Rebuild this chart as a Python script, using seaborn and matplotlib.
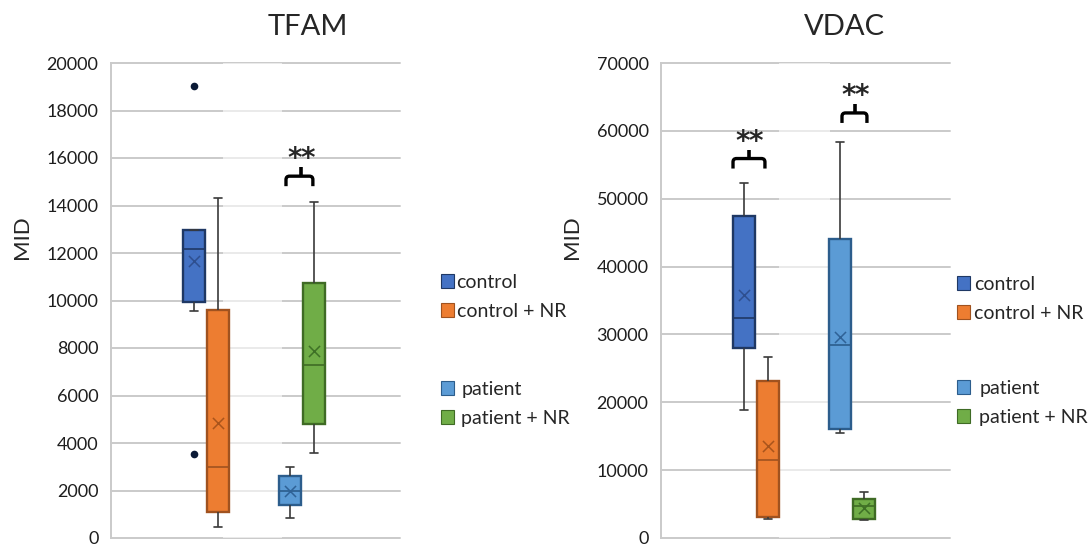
import numpy as np
import pandas as pd
import seaborn as sns
import matplotlib.pyplot as plt
from matplotlib.patches import Patch, PathPatch
from matplotlib.path import Path

# ---------------------------------------------------------------------------
# Data: box-plot summaries (whisker low, Q1, median, Q3, whisker high, mean)
# ---------------------------------------------------------------------------
groups = ["control", "control + NR", "patient", "patient + NR"]

tfam_low = [9570, 460, 830, 3590]
tfam_q1 = [9920, 1080, 1390, 4780]
tfam_median = [12150, 3000, 2000, 7300]
tfam_q3 = [12960, 9620, 2620, 10740]
tfam_high = [12960, 14300, 2990, 14140]
tfam_mean = [11680, 4840, 2000, 7880]
tfam_outlier_groups = ["control", "control"]
tfam_outliers = [19030, 3550]

vdac_low = [18890, 2750, 15450, 2650]
vdac_q1 = [28060, 3140, 16040, 2800]
vdac_median = [32380, 11530, 28400, 4700]
vdac_q3 = [47480, 23150, 44050, 5750]
vdac_high = [52340, 26640, 58320, 6780]
vdac_mean = [35810, 13490, 29680, 4350]
vdac_outlier_groups = []
vdac_outliers = []

tfam_ticks = [0, 2000, 4000, 6000, 8000, 10000, 12000, 14000, 16000, 18000, 20000]
vdac_ticks = [0, 10000, 20000, 30000, 40000, 50000, 60000, 70000]

# ---------------------------------------------------------------------------
# Style
# ---------------------------------------------------------------------------
fills = ["#4472C4", "#ED7D31", "#5B9BD5", "#70AD47"]
edges = ["#1F3864", "#A0521F", "#2C5D8C", "#3F6B25"]
mean_colors = ["#2E4F8F", "#A9541C", "#2F6296", "#3E7026"]
grid_color = "#CACACA"

sns.set_style("white")
plt.rcParams["font.family"] = ["Lato", "DejaVu Sans"]

W, H = 1088, 544
fig = plt.figure(figsize=(W / 100, H / 100), dpi=100)

# two box slots per pair, two empty slots between the pairs
slots = ["control", "control + NR", " ", "  ", "patient", "patient + NR"]


def px_x(px):
    return px / W


def px_y(py):
    return 1 - py / H


def bracket(ax, x0, x1, xc, y):
    """Significance bracket: legs down at both ends, a tick up in the middle."""
    per_px = ax.get_ylim()[1] / 475.0
    leg, tick, r = 10 * per_px, 9 * per_px, 3.5 * per_px
    rx = 3.5 / 24.0
    verts = [(x0, y - leg), (x0, y - r), (x0, y), (x0 + rx, y),
             (x1 - rx, y), (x1, y), (x1, y - r), (x1, y - leg)]
    codes = [Path.MOVETO, Path.LINETO, Path.CURVE3, Path.CURVE3,
             Path.LINETO, Path.CURVE3, Path.CURVE3, Path.LINETO]
    ax.add_patch(PathPatch(Path(verts, codes), fill=False, edgecolor="black",
                           linewidth=2.4, zorder=6, clip_on=False))
    ax.plot([xc, xc], [y, y + tick], color="black", linewidth=2.6,
            solid_capstyle="butt", zorder=6, clip_on=False)
    for dx in (-0.27, 0.27):
        ax.text(xc + dx, y + 9 * per_px, "*", ha="center", va="baseline",
                fontsize=20, fontweight="bold", family="DejaVu Sans",
                zorder=6)


def draw_panel(ax, low, q1, med, q3, high, mean, ticks, out_groups, outs):
    summary = pd.DataFrame({
        "group": np.repeat(groups, 5),
        "MID": np.column_stack([low, q1, med, q3, high]).ravel(),
    })
    sns.boxplot(data=summary, x="group", y="MID", hue="group", order=slots,
                hue_order=groups, palette=fills, saturation=1, whis=(0, 100),
                width=0.92, showfliers=False, linewidth=1.2,
                linecolor="#3A3A3A", legend=False, ax=ax)

    # per-box edge colours, median colour and short caps
    for cont in ax.containers:
        for i, box in enumerate(cont.boxes):
            ctr = box.get_path().vertices[:, 0].mean()
            gi = groups.index(slots[int(round(ctr))])
            box.set_edgecolor(edges[gi])
            box.set_linewidth(1.7)
            cont.medians[i].set_color(edges[gi])
            cont.medians[i].set_linewidth(1.2)
        for cap in cont.caps:
            c = np.mean(cap.get_xdata())
            cap.set_xdata([c - 0.17, c + 0.17])

    # means as crosses
    sns.stripplot(x=groups, y=mean, order=slots, hue=groups, hue_order=groups,
                  palette=mean_colors, marker="x", size=8, linewidth=1.1,
                  jitter=False, legend=False, ax=ax, zorder=5)
    if outs:
        sns.stripplot(x=out_groups, y=outs, order=slots, color="#0B1A36",
                      size=5.5, jitter=False, ax=ax, zorder=5)

    ax.set_xlim(-3.46, 8.58)
    ax.set_ylim(0, ticks[-1])
    ax.set_yticks(ticks)
    ax.set_xticks([])
    ax.set_xlabel("")
    ax.set_ylabel("")
    ax.set_axisbelow(True)
    ax.yaxis.grid(True, color=grid_color, linewidth=1.4)
    for gl in ax.get_ygridlines():
        gl.set_clip_on(False)
    for s in ["top", "right", "bottom"]:
        ax.spines[s].set_visible(False)
    ax.spines["left"].set_color(grid_color)
    ax.spines["left"].set_linewidth(1.4)
    ax.tick_params(axis="y", length=0, pad=9, labelsize=13,
                   labelcolor="#1E1E1E")


def add_legend(ax, x_px, top1_px, top2_px, pad1, pad2):
    handles = [Patch(facecolor=f, edgecolor=e, linewidth=0.8)
               for f, e in zip(fills, edges)]
    common = dict(frameon=False, handlelength=0.65, handleheight=0.7,
                  borderpad=0, borderaxespad=0, labelspacing=0.62,
                  fontsize=14, loc="upper left",
                  bbox_transform=fig.transFigure)
    leg1 = ax.legend(handles[:2], groups[:2],
                     bbox_to_anchor=(px_x(x_px), px_y(top1_px)),
                     handletextpad=pad1, **common)
    ax.add_artist(leg1)
    ax.legend(handles[2:], groups[2:],
              bbox_to_anchor=(px_x(x_px), px_y(top2_px)),
              handletextpad=pad2, **common)


# --- TFAM -------------------------------------------------------------------
ax1 = fig.add_axes([px_x(111), 6 / H, 289 / W, 475 / H])
ax1.axvspan(1.21, 3.66, color="white", alpha=0.6, zorder=0.8, linewidth=0)
draw_panel(ax1, tfam_low, tfam_q1, tfam_median, tfam_q3, tfam_high,
           tfam_mean, tfam_ticks, tfam_outlier_groups, tfam_outliers)
bracket(ax1, 3.83, 4.95, 4.46, 15235)
fig.text(px_x(308), px_y(27), "TFAM", fontsize=21, ha="center", va="center")
fig.text(px_x(22), px_y(237), "MID", fontsize=16, rotation=90,
         ha="center", va="center")
add_legend(ax1, 441, 274, 381, 0.15, 0.4)

# --- VDAC -------------------------------------------------------------------
ax2 = fig.add_axes([px_x(661), 6 / H, 289 / W, 475 / H])
ax2.axvspan(1.46, 3.58, color="white", alpha=0.6, zorder=0.8, linewidth=0)
draw_panel(ax2, vdac_low, vdac_q1, vdac_median, vdac_q3, vdac_high,
           vdac_mean, vdac_ticks, vdac_outlier_groups, vdac_outliers)
bracket(ax2, -0.46, 0.87, 0.21, 55920)
bracket(ax2, 4.08, 5.12, 4.62, 62640)
fig.text(px_x(844), px_y(27), "VDAC", fontsize=21, ha="center", va="center")
fig.text(px_x(572), px_y(237), "MID", fontsize=16, rotation=90,
         ha="center", va="center")
add_legend(ax2, 957, 276, 380, 0.25, 0.5)

fig.savefig("out.png", dpi=100)
